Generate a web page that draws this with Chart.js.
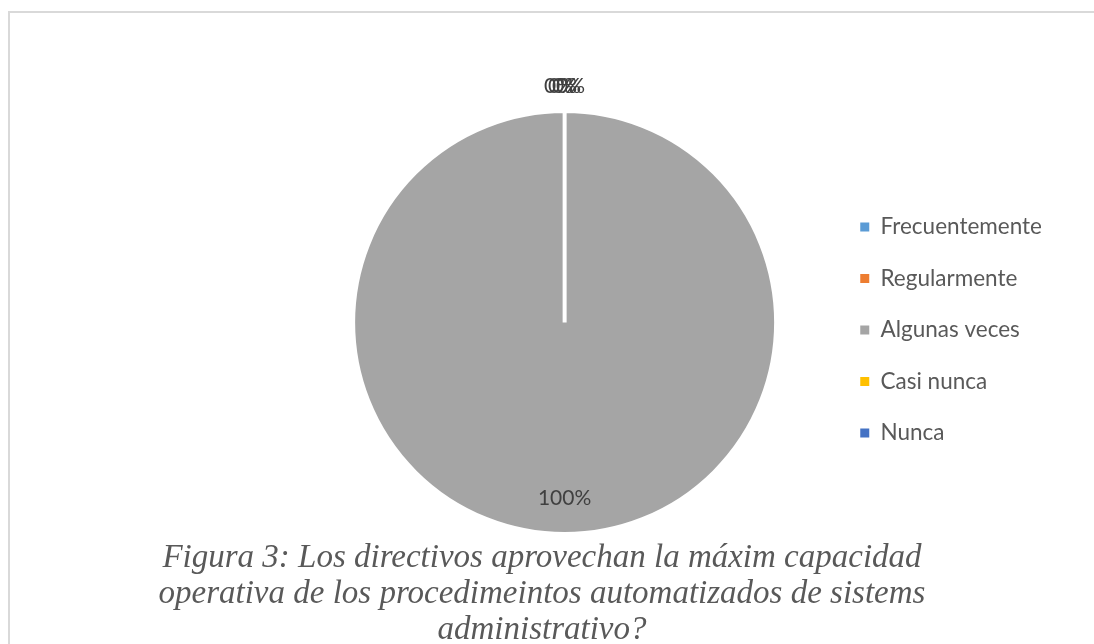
<!DOCTYPE html>
<html>
<head>
<meta charset="utf-8">
<script src="https://cdn.jsdelivr.net/npm/chart.js@4.4.0/dist/chart.umd.min.js"></script>
<style>
  html, body { margin: 0; padding: 0; background: #fff; overflow: hidden; }
  #frame {
    position: absolute; left: 8px; top: 11px; width: 1200px; height: 700px;
    border-left: 2px solid #d9d9d9; border-top: 2px solid #d9d9d9;
  }
  #wrap { position: absolute; left: 10px; top: 13px; width: 1084px; height: 540px; }
  #caption {
    position: absolute; left: 10px; width: 1064px; top: 538px;
    text-align: center; font-family: "Liberation Serif", "DejaVu Serif", serif;
    font-style: italic; font-size: 33px; line-height: 36px; color: #595959;
  }
</style>
</head>
<body>
<div id="frame"></div>
<div id="wrap"><canvas id="pieChart"></canvas></div>
<div id="caption">Figura 3: Los directivos aprovechan la máxim capacidad<br>operativa de los procedimeintos automatizados de sistems<br>administrativo?</div>
<script>
var categories = ['Frecuentemente', 'Regularmente', 'Algunas veces', 'Casi nunca', 'Nunca'];
var values = [0, 0, 100, 0, 0];
var colors = ['#5B9BD5', '#ED7D31', '#A5A5A5', '#FFC000', '#4472C4'];

var ctx = document.getElementById('pieChart').getContext('2d');

// draws the percentage labels like Excel does (0% outside, the rest inside)
var pctLabels = {
    id: 'pctLabels',
    afterDatasetsDraw: function (chart) {
        var c = chart.ctx;
        var meta = chart.getDatasetMeta(0);
        var total = values.reduce(function (a, b) { return a + b; }, 0);
        var used = [];
        c.save();
        c.font = '21px Lato';
        c.fillStyle = '#404040';
        c.textAlign = 'center';
        c.textBaseline = 'middle';
        meta.data.forEach(function (arc, i) {
            var p = arc.getProps(['x', 'y', 'startAngle', 'endAngle', 'outerRadius'], true);
            var mid = (p.startAngle + p.endAngle) / 2;
            var r = values[i] === 0 ? p.outerRadius + 25 : p.outerRadius * 0.83;
            var lx = p.x + Math.cos(mid) * r;
            var ly = p.y + Math.sin(mid) * r;
            // crude collision nudge for stacked labels
            if (values[i] === 0) {
                var hits = used.filter(function (u) { return Math.abs(u[0] - lx) < 20 && Math.abs(u[1] - ly) < 10; }).length;
                used.push([lx, ly]);
                lx += (hits - 1.5) * 4;
            }
            var pct = total ? Math.round(values[i] / total * 100) : 0;
            c.fillText(pct + '%', lx, ly);
        });
        c.restore();
    }
};

new Chart(ctx, {
    type: 'pie',
    data: {
        labels: categories,
        datasets: [{
            data: values,
            backgroundColor: colors,
            borderColor: '#ffffff',
            borderWidth: 4,
            hoverOffset: 0
        }]
    },
    options: {
        responsive: true,
        maintainAspectRatio: false,
        animation: false,
        layout: { padding: { left: 288, top: 96, bottom: 17, right: 42 } },
        plugins: {
            tooltip: { enabled: false },
            legend: {
                display: true,
                position: 'right',
                title: { display: true, text: ' ', font: { size: 10 }, padding: 1.5 },
                labels: {
                    color: '#595959',
                    font: { family: 'Lato', size: 22.5 },
                    boxWidth: 9,
                    boxHeight: 9,
                    padding: 29,
                    generateLabels: function (chart) {
                        var items = Chart.overrides.pie.plugins.legend.labels.generateLabels(chart);
                        items.forEach(function (it) { it.lineWidth = 0; });
                        return items;
                    }
                }
            }
        }
    },
    plugins: [pctLabels]
});
</script>
</body>
</html>
